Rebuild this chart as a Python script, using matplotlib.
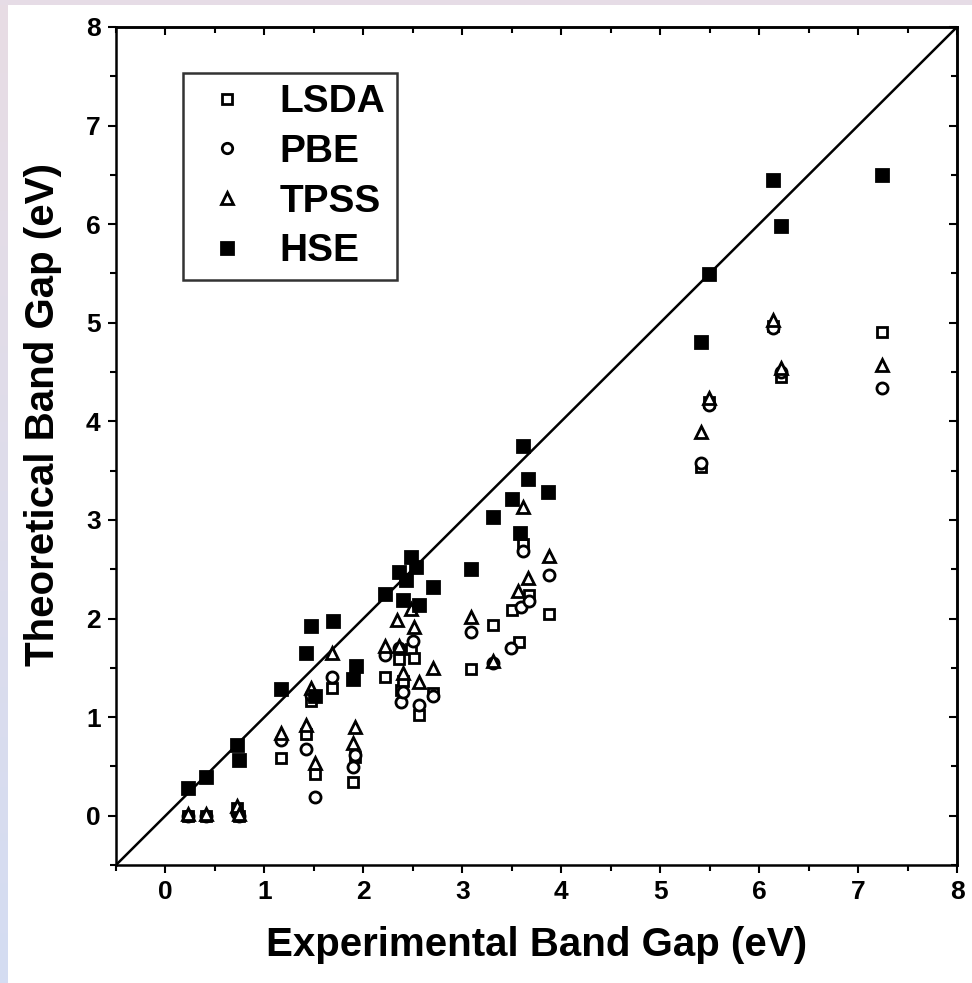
import numpy as np
import matplotlib
matplotlib.use("Agg")
import matplotlib.pyplot as plt
from matplotlib.lines import Line2D
from matplotlib.ticker import MultipleLocator
from matplotlib.colors import LinearSegmentedColormap

plt.rcParams['font.family'] = ['Liberation Sans', 'DejaVu Sans']
plt.rcParams['font.weight'] = 'bold'

# ---- data (experimental gap, theoretical gap) ----
lsda_x = [0.23, 0.41, 0.72, 0.74, 1.17, 1.42, 1.47, 1.51, 1.68, 1.90, 1.92, 2.22, 2.36, 2.38, 2.40, 2.48,
          2.51, 2.56, 2.70, 3.09, 3.31, 3.50, 3.57, 3.61, 3.67, 3.88, 5.41, 5.49, 6.14, 6.22, 7.24]
lsda_y = [0.00, 0.00, 0.08, 0.00, 0.59, 0.83, 1.16, 0.42, 1.30, 0.34, 0.60, 1.41, 1.59, 1.28, 1.37, 1.69,
          1.60, 1.02, 1.24, 1.49, 1.93, 2.09, 1.76, 2.76, 2.24, 2.05, 3.54, 4.20, 4.97, 4.45, 4.91]

pbe_x = [0.23, 0.41, 0.72, 0.74, 1.17, 1.42, 1.47, 1.51, 1.68, 1.90, 1.92, 2.22, 2.36, 2.38, 2.40, 2.50,
         2.56, 2.70, 3.09, 3.31, 3.49, 3.59, 3.61, 3.67, 3.88, 5.41, 5.49, 6.14, 6.22, 7.24]
pbe_y = [0.00, 0.00, 0.03, 0.00, 0.77, 0.68, 1.22, 0.19, 1.41, 0.49, 0.62, 1.63, 1.70, 1.15, 1.25, 1.77,
         1.12, 1.21, 1.86, 1.55, 1.70, 2.12, 2.68, 2.18, 2.44, 3.58, 4.17, 4.95, 4.50, 4.34]

tpss_x = [0.23, 0.41, 0.72, 0.74, 1.17, 1.42, 1.47, 1.51, 1.68, 1.90, 1.92, 2.22, 2.34, 2.36, 2.40, 2.48,
          2.51, 2.56, 2.70, 3.09, 3.31, 3.56, 3.61, 3.66, 3.88, 5.41, 5.49, 6.14, 6.22, 7.24]
tpss_y = [0.02, 0.02, 0.10, 0.02, 0.84, 0.92, 1.30, 0.53, 1.65, 0.74, 0.90, 1.72, 1.99, 1.72, 1.45, 2.10,
          1.91, 1.36, 1.50, 2.02, 1.57, 2.28, 3.13, 2.41, 2.63, 3.89, 4.24, 5.03, 4.54, 4.57]

hse_x = [0.23, 0.41, 0.72, 0.74, 1.17, 1.42, 1.47, 1.51, 1.69, 1.90, 1.93, 2.22, 2.36, 2.40, 2.43, 2.48,
         2.53, 2.56, 2.70, 3.09, 3.31, 3.50, 3.58, 3.61, 3.66, 3.87, 5.41, 5.49, 6.14, 6.22, 7.24]
hse_y = [0.28, 0.39, 0.72, 0.56, 1.29, 1.65, 1.92, 1.21, 1.98, 1.39, 1.52, 2.25, 2.47, 2.19, 2.39, 2.62,
         2.52, 2.14, 2.32, 2.50, 3.03, 3.21, 2.87, 3.75, 3.42, 3.28, 4.80, 5.49, 6.45, 5.98, 6.50]

labels = ['LSDA', 'PBE', 'TPSS', 'HSE']
axis_min, axis_max = -0.5, 8.0
xticks = [0, 1, 2, 3, 4, 5, 6, 7, 8]
yticks = [0, 1, 2, 3, 4, 5, 6, 7, 8]

W, H = 972, 983
fig = plt.figure(figsize=(W / 100, H / 100), dpi=100, facecolor='white')

# decorative light border (left gradient strip and top strip)
grad = np.linspace(0, 1, 256).reshape(-1, 1)
bax = fig.add_axes([0, 0, 7 / W, 1])
cm = LinearSegmentedColormap.from_list('b', ['#e8dce4', '#d4dcf2'])
bax.imshow(grad, aspect='auto', cmap=cm, extent=[0, 1, 0, 1])
bax.axis('off')
tax = fig.add_axes([0, 1 - 5 / H, 1, 5 / H])
tax.set_facecolor('#e6dce6')
tax.set_xticks([]); tax.set_yticks([])
for s in tax.spines.values():
    s.set_visible(False)

ax = fig.add_axes([116 / W, (H - 865) / H, (957 - 116) / W, (865 - 27) / H])

ax.plot([axis_min, axis_max], [axis_min, axis_max], color='black', lw=1.8, zorder=1)

mk = dict(linestyle='none', markeredgewidth=2.0, markeredgecolor='black', zorder=3)
ax.plot(lsda_x, lsda_y, marker='s', markerfacecolor='white', markersize=7.5, **mk)
ax.plot(pbe_x, pbe_y, marker='o', markerfacecolor='white', markersize=8, **mk)
ax.plot(tpss_x, tpss_y, marker='^', markerfacecolor='white', markersize=9, **mk)
ax.plot(hse_x, hse_y, marker='s', markerfacecolor='black', markersize=8.5, **mk)

ax.set_xlim(axis_min, axis_max)
ax.set_ylim(axis_min, axis_max)
ax.set_xticks(xticks)
ax.set_yticks(yticks)
ax.xaxis.set_minor_locator(MultipleLocator(0.5))
ax.yaxis.set_minor_locator(MultipleLocator(0.5))

for s in ax.spines.values():
    s.set_linewidth(1.8)

ax.tick_params(which='both', direction='out', top=False, right=False, width=1.5)
ax.tick_params(which='major', length=6, labelsize=19, pad=5)
ax.tick_params(which='minor', length=4)
for lab in ax.get_xticklabels() + ax.get_yticklabels():
    lab.set_fontweight('bold')

# inward ticks on top and right
sx = ax.secondary_xaxis('top')
sx.set_xticks(xticks)
sx.xaxis.set_minor_locator(MultipleLocator(0.5))
sx.tick_params(which='both', direction='in', labeltop=False, width=1.5)
sx.tick_params(which='major', length=6)
sx.tick_params(which='minor', length=4)
sx.spines['top'].set_linewidth(1.8)
sy = ax.secondary_yaxis('right')
sy.set_yticks(yticks)
sy.yaxis.set_minor_locator(MultipleLocator(0.5))
sy.tick_params(which='both', direction='in', labelright=False, width=1.5)
sy.tick_params(which='major', length=6)
sy.tick_params(which='minor', length=4)
sy.spines['right'].set_linewidth(1.8)

ax.set_xlabel('Experimental Band Gap (eV)', fontsize=29, fontweight='bold', labelpad=16)
ax.set_ylabel('Theoretical Band Gap (eV)', fontsize=29, fontweight='bold')
ax.yaxis.set_label_coords(-0.064, 0.537)

hk = dict(markeredgecolor='black', markeredgewidth=2.0, linestyle='none')
handles = [
    Line2D([], [], marker='s', markerfacecolor='white', markersize=7.5, **hk),
    Line2D([], [], marker='o', markerfacecolor='white', markersize=7.5, **hk),
    Line2D([], [], marker='^', markerfacecolor='white', markersize=8.5, **hk),
    Line2D([], [], marker='s', markerfacecolor='black', markersize=8, **hk),
]
leg = ax.legend(handles, labels, loc='upper left', bbox_to_anchor=(0.0797, 0.945), frameon=True,
                fancybox=False, edgecolor='black', prop={'size': 28, 'weight': 'bold'},
                handletextpad=0.52, labelspacing=0.35, borderpad=0.29, handlelength=1.68,
                borderaxespad=0)
leg.get_frame().set_linewidth(1.8)

fig.savefig('out.png', dpi=100, facecolor='white')
